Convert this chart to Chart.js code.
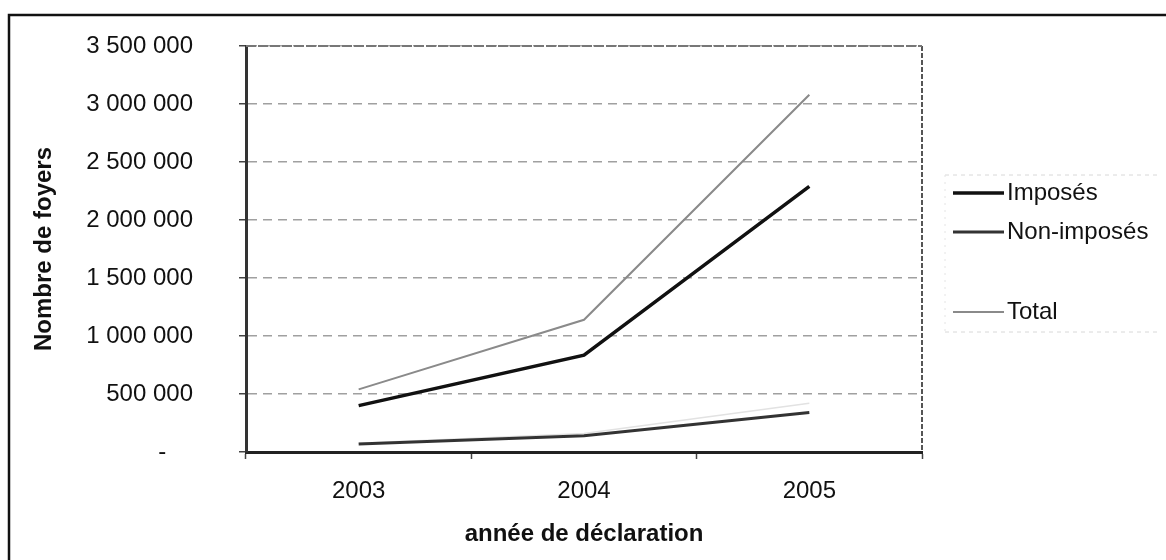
<!DOCTYPE html>
<html><head><meta charset="utf-8">
<script src="https://cdn.jsdelivr.net/npm/chart.js@4.4.1/dist/chart.umd.min.js"></script>
<style>html,body{margin:0;padding:0;background:#fff;}#wrap{width:1166px;height:560px;position:relative;}</style>
</head><body><div id="wrap"><canvas id="c" width="1166" height="560"></canvas></div>
<script>
const years = ['2003', '2004', '2005'];
const imposes = [400000, 835000, 2290000];
const nonImposes = [70000, 140000, 340000];
const faintSeries = [75000, 160000, 420000];
const total = [540000, 1140000, 3080000];
const yTicks = [0, 500000, 1000000, 1500000, 2000000, 2500000, 3000000, 3500000];
const legendLabels = ['Imposés', 'Non-imposés', '', 'Total'];

const FONT = '"Liberation Sans", Arial, sans-serif';
function fmt(v){ if (v === 0) return '-    '; return String(v).replace(/\B(?=(\d{3})+(?!\d))/g, ' '); }

const framePlugin = {
  id: 'frame',
  beforeDraw(chart){
    const ctx = chart.ctx; ctx.save();
    ctx.fillStyle = '#fff'; ctx.fillRect(0,0,chart.width,chart.height);
    ctx.strokeStyle = '#111'; ctx.lineWidth = 2.5;
    ctx.beginPath(); ctx.moveTo(9, 562); ctx.lineTo(9, 15); ctx.lineTo(1170, 15); ctx.stroke();
    ctx.restore();
  },
  afterDatasetsDraw(chart){
    const {ctx, chartArea:a} = chart; ctx.save();
    ctx.strokeStyle = '#555'; ctx.lineWidth = 2; ctx.setLineDash([5,2]);
    ctx.beginPath(); ctx.moveTo(a.right, a.top); ctx.lineTo(a.right, a.bottom); ctx.stroke();
    ctx.strokeStyle = '#777'; ctx.lineWidth = 2; ctx.setLineDash([10,2]);
    ctx.beginPath(); ctx.moveTo(a.left, a.top); ctx.lineTo(a.right, a.top); ctx.stroke();
    ctx.restore();
  },
  afterDraw(chart){
    const ctx = chart.ctx; ctx.save();
    ctx.strokeStyle = '#d8d8d8'; ctx.lineWidth = 1; ctx.setLineDash([4,4]);
    ctx.beginPath(); ctx.moveTo(945, 175); ctx.lineTo(1160, 175); ctx.moveTo(945, 332); ctx.lineTo(1160, 332); ctx.stroke();
    ctx.strokeStyle = '#e4e4e4'; ctx.setLineDash([2,5]);
    ctx.beginPath(); ctx.moveTo(945, 175); ctx.lineTo(945, 332); ctx.stroke();
    ctx.setLineDash([]);
    const ys = [193, 232, 272, 312];
    chart.data.datasets.forEach((ds, i) => {
      if (!legendLabels[i]) return;
      const y = ys[i];
      ctx.strokeStyle = ds.borderColor; ctx.lineWidth = ds.borderWidth;
      ctx.beginPath(); ctx.moveTo(953, y); ctx.lineTo(1004, y); ctx.stroke();
      ctx.fillStyle = '#111'; ctx.font = '24px ' + FONT; ctx.textBaseline = 'middle';
      ctx.fillText(legendLabels[i], 1007, y);
    });
    ctx.restore();
  }
};

new Chart(document.getElementById('c'), {
  type: 'line',
  data: {
    labels: years,
    datasets: [
      {label: legendLabels[0], data: imposes, borderColor: '#111', borderWidth: 3.5, pointRadius: 0, tension: 0},
      {label: legendLabels[1], data: nonImposes, borderColor: '#333', borderWidth: 3, pointRadius: 0, tension: 0},
      {label: legendLabels[2], data: faintSeries, borderColor: '#e2e2e2', borderWidth: 1.5, pointRadius: 0, tension: 0},
      {label: legendLabels[3], data: total, borderColor: '#8a8a8a', borderWidth: 2, pointRadius: 0, tension: 0}
    ]
  },
  options: {
    responsive: false, animation: false,
    layout: {padding: {top: 46, right: 244, left: 0, bottom: 0}},
    plugins: {legend: {display: false}, tooltip: {enabled: false}},
    scales: {
      x: {
        offset: true,
        grid: {offset: true, drawOnChartArea: false, drawTicks: true, tickLength: 7, tickColor: '#444', tickWidth: 1.5},
        border: {display: true, color: '#222', width: 3},
        ticks: {color: '#111', font: {family: FONT, size: 24}, padding: 18, maxRotation: 0},
        title: {display: true, text: 'année de déclaration', color: '#111', font: {family: FONT, size: 24, weight: 'bold'}, padding: {top: 0, bottom: 11}},
        afterFit(s){ s.height = 108; s.paddingLeft = 0; s.paddingRight = 0; }
      },
      y: {
        min: 0, max: 3500000,
        afterBuildTicks(s){ s.ticks = yTicks.map(v => ({value: v})); },
        grid: {
          color: ctx => ctx.tick && ctx.tick.value === 0 ? 'rgba(0,0,0,0)' : '#a0a0a0',
          lineWidth: 1.5, drawTicks: true, tickLength: 7, tickColor: '#444', tickWidth: 1.5, tickBorderDash: []
        },
        border: {display: true, color: '#333', width: 3, dash: [9, 6]},
        ticks: {color: '#111', font: {family: FONT, size: 24}, padding: 46, callback: v => fmt(v)},
        title: {display: true, text: 'Nombre de foyers', color: '#111', font: {family: FONT, size: 24, weight: 'bold'}, padding: {top: 30, bottom: 0}},
        afterFit(s){ s.width = 246; s.paddingTop = 0; s.paddingBottom = 0; }
      }
    }
  },
  plugins: [framePlugin]
});
</script></body></html>
